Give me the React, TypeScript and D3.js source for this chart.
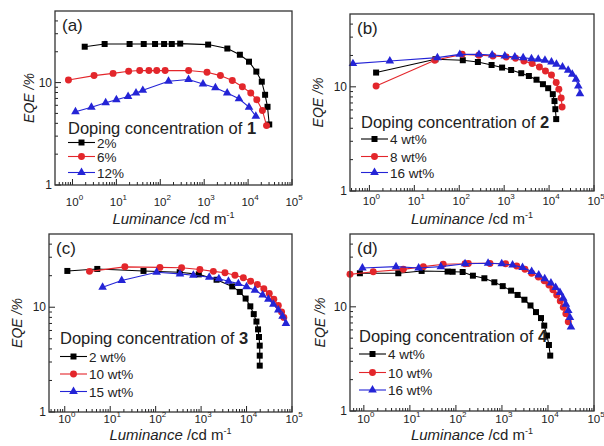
import React from 'react';
import * as d3 from 'd3';

// ---- panel (a): doping concentration of 1 ----
const aLum2 = [1.9, 5.4, 20, 42, 76, 122, 183, 284, 1230, 3370, 6500, 10500, 15400, 20500, 24400, 27700, 30300];
const aEqe2 = [22.4, 23.8, 23.8, 23.8, 23.8, 23.8, 23.8, 24.0, 23.5, 21.5, 18.7, 16.0, 12.8, 10.2, 7.6, 5.8, 3.9];
const aLum6 = [0.81, 3.1, 8.4, 19, 34, 55, 83, 129, 442, 1160, 2340, 4370, 7400, 11500, 15800, 21200, 26300];
const aEqe6 = [10.6, 11.7, 12.3, 12.9, 13.1, 13.1, 13.1, 13.1, 13.1, 12.6, 11.7, 10.5, 9.1, 7.9, 6.8, 5.35, 3.8];
const aLum12 = [1.17, 2.7, 5.7, 10, 18.5, 28, 40, 154, 440, 940, 1800, 3340, 6200, 10500, 15000];
const aEqe12 = [5.2, 5.75, 6.35, 6.8, 7.3, 7.9, 8.4, 10.3, 10.7, 9.7, 8.9, 7.9, 6.95, 5.75, 4.7];

// ---- panel (b): doping concentration of 2 ----
const bLum4 = [1.41, 29.5, 120, 260, 525, 900, 1430, 2400, 3550, 5250, 7300, 9550, 12100, 13200, 13800, 14400];
const bEqe4 = [13.7, 18.4, 18.0, 17.3, 16.2, 15.3, 14.5, 13.5, 12.7, 11.7, 10.6, 9.7, 8.5, 7.3, 6.1, 4.9];
const bLum8 = [1.41, 28.6, 116, 273, 560, 1110, 1790, 2750, 4200, 6100, 8300, 11300, 14400, 16500, 18600, 19500];
const bEqe8 = [10.2, 18.0, 20.5, 20.1, 19.8, 19.3, 18.8, 17.7, 16.7, 15.5, 14.2, 13.0, 11.0, 9.5, 7.8, 6.4];
const bLum16 = [0.43, 2.85, 32.7, 103, 275, 540, 1035, 1730, 2650, 4060, 5740, 8100, 11300, 14600, 19900, 26600, 32800, 39800, 44700, 48700];
const bEqe16 = [16.7, 17.7, 19.05, 20.5, 20.5, 20.2, 19.8, 19.3, 19.05, 18.6, 18.4, 18.0, 17.3, 16.5, 15.5, 14.4, 13.2, 11.8, 10.2, 8.6];

// ---- panel (c): doping concentration of 3 ----
const cLum2 = [1.14, 5.2, 54, 338, 890, 2190, 4830, 7100, 9550, 12100, 14400, 16500, 17900, 18800, 19500, 19500, 19500];
const cEqe2 = [22.2, 23.2, 22.2, 21.6, 20.6, 18.3, 15.8, 14.0, 12.1, 10.2, 8.6, 7.3, 6.15, 5.2, 4.3, 3.45, 2.77];
const cLum10 = [3.5, 21, 124, 372, 940, 1860, 3350, 5560, 8500, 12300, 17300, 24000, 31600, 39800, 50000, 59000, 66000];
const cEqe10 = [22.0, 24.3, 24.0, 23.8, 22.9, 22.0, 21.3, 20.2, 19.1, 17.7, 16.5, 15.0, 13.5, 11.9, 10.4, 9.0, 8.0];
const cLum15 = [6.8, 17.9, 105, 343, 675, 1510, 2460, 4000, 6600, 10000, 15300, 22600, 30200, 38900, 50000, 62000, 73500];
const cEqe15 = [15.5, 18.0, 21.6, 20.8, 20.2, 19.3, 18.7, 17.7, 16.8, 15.7, 14.5, 13.1, 11.9, 10.7, 9.4, 8.2, 7.0];

// ---- panel (d): doping concentration of 4 ----
const dLum4 = [0.82, 5.6, 18, 66, 85, 140, 234, 415, 684, 1040, 1580, 2190, 3080, 4170, 5500, 7050, 8300, 9500, 10500, 11200];
const dEqe4 = [21.0, 21.0, 22.1, 21.8, 21.7, 21.6, 19.9, 18.8, 17.2, 15.8, 14.3, 13.0, 11.7, 10.3, 8.9, 7.8, 6.6, 5.3, 4.3, 3.4];
const dLum10 = [0.5, 1.6, 7.2, 19.6, 53, 158, 186, 550, 1200, 2090, 3160, 4400, 6200, 8300, 10500, 12800, 15500, 18500, 21500, 24500, 27600];
const dEqe10 = [20.5, 21.7, 22.9, 24.3, 25.6, 25.9, 26.1, 26.1, 25.9, 24.6, 22.9, 21.0, 19.3, 17.8, 16.2, 14.6, 13.0, 11.4, 9.9, 8.6, 7.2];
const dLum16 = [0.93, 5, 15.5, 47, 158, 500, 990, 1700, 2800, 4420, 6300, 8500, 11600, 14700, 18200, 21400, 24500, 27600, 30000, 31600];
const dEqe16 = [23.6, 24.3, 23.6, 24.3, 25.9, 26.2, 25.9, 25.2, 23.9, 21.8, 20.2, 18.6, 16.9, 15.3, 13.7, 12.1, 10.6, 9.2, 7.9, 6.4];

const BLACK = '#000000';
const RED = '#e3262b';
const BLUE = '#2424d6';
const FONT = 'Liberation Sans, Arial, sans-serif';

const sq = d3.symbol().type(d3.symbolSquare).size(36)();
const ci = d3.symbol().type(d3.symbolCircle).size(38)();
const tri = d3.symbol().type(d3.symbolTriangle).size(32)();

const mk = (lum, eqe, color, shape, label) => ({ lum, eqe, color, shape, label });

const panels = [
  {
    tag: '(a)', num: '1', box: [55, 11, 292, 185], xMin: 0.4,
    tickY: 206, titleY: 224, yLabelX: 34,
    leg: { x: 68, titleY: 134, rows: [147.5, 161.5, 177.5] },
    series: [
      mk(aLum2, aEqe2, BLACK, sq, '2%'),
      mk(aLum6, aEqe6, RED, ci, '6%'),
      mk(aLum12, aEqe12, BLUE, tri, '12%'),
    ],
  },
  {
    tag: '(b)', num: '2', box: [350, 14, 594, 191], xMin: 0.37,
    tickY: 205, titleY: 224, yLabelX: 323,
    leg: { x: 361, titleY: 127.5, rows: [144, 161.5, 177.5] },
    series: [
      mk(bLum4, bEqe4, BLACK, sq, '4 wt%'),
      mk(bLum8, bEqe8, RED, ci, '8 wt%'),
      mk(bLum16, bEqe16, BLUE, tri, '16 wt%'),
    ],
  },
  {
    tag: '(c)', num: '3', box: [49, 234, 292, 412], xMin: 0.45,
    tickY: 423, titleY: 440, yLabelX: 22,
    leg: { x: 60, titleY: 343.5, rows: [361.5, 379, 396.5] },
    series: [
      mk(cLum2, cEqe2, BLACK, sq, '2 wt%'),
      mk(cLum10, cEqe10, RED, ci, '10 wt%'),
      mk(cLum15, cEqe15, BLUE, tri, '15 wt%'),
    ],
  },
  {
    tag: '(d)', num: '4', box: [350, 234, 594, 411], xMin: 0.5,
    tickY: 423, titleY: 440, yLabelX: 325,
    leg: { x: 359, titleY: 341.5, rows: [359, 377.5, 395] },
    series: [
      mk(dLum4, dEqe4, BLACK, sq, '4 wt%'),
      mk(dLum10, dEqe10, RED, ci, '10 wt%'),
      mk(dLum16, dEqe16, BLUE, tri, '16 wt%'),
    ],
  },
];

function Panel({ p }) {
  const [x0, y0, x1, y1] = p.box;
  const x = d3.scaleLog().domain([p.xMin, 1e5]).range([x0, x1]);
  const y = d3.scaleLog().domain([1, 50]).range([y1, y0]);
  const line = d3.line().x((d) => x(d[0])).y((d) => y(d[1]));

  const xMinor = [];
  for (let k = -1; k <= 4; k++) {
    for (let m = 2; m <= 9; m++) {
      const v = m * Math.pow(10, k);
      if (v > p.xMin && v < 1e5) xMinor.push(v);
    }
  }
  const xMajor = [1, 10, 100, 1000, 10000, 100000];
  const yMinor = [2, 3, 4, 5, 6, 7, 8, 9, 20, 30, 40];
  const yMajor = [1, 10];
  const lx0 = p.leg.x;
  const lx1 = p.leg.x + 27;

  return (
    <g fontFamily={FONT}>
      {/* ticks, inward */}
      {xMinor.map((v) => (
        <line key={'xm' + v} x1={x(v)} x2={x(v)} y1={y1} y2={y1 - 3} stroke="#222" strokeWidth={1} />
      ))}
      {xMajor.map((v) => (
        <line key={'xM' + v} x1={x(v)} x2={x(v)} y1={y1} y2={y1 - 6} stroke="#222" strokeWidth={1} />
      ))}
      {yMinor.map((v) => (
        <line key={'ym' + v} x1={x0} x2={x0 + 3} y1={y(v)} y2={y(v)} stroke="#222" strokeWidth={1} />
      ))}
      {yMajor.map((v) => (
        <line key={'yM' + v} x1={x0} x2={x0 + 6} y1={y(v)} y2={y(v)} stroke="#222" strokeWidth={1} />
      ))}

      {/* data */}
      {p.series.map((s, i) => {
        const pts = s.lum.map((l, j) => [l, s.eqe[j]]);
        return (
          <g key={i}>
            <path d={line(pts)} fill="none" stroke={s.color} strokeWidth={1.1} />
            {pts.map((d, j) => (
              <path key={j} d={s.shape} transform={`translate(${x(d[0])},${y(d[1])})`} fill={s.color} />
            ))}
          </g>
        );
      })}

      {/* frame */}
      <rect x={x0} y={y0} width={x1 - x0} height={y1 - y0} fill="none" stroke="#333" strokeWidth={1.3} />

      {/* tick labels */}
      {xMajor.map((v, i) => (
        <text key={'xl' + v} x={x(v) + 2} y={p.tickY} fontSize={11.5} textAnchor="middle" fill="#222">
          10<tspan fontSize={8} dy={-6}>{i}</tspan>
        </text>
      ))}
      {yMajor.map((v) => (
        <text key={'yl' + v} x={x0 - 3} y={y(v) + 4} fontSize={12} textAnchor="end" fill="#222">
          {v}
        </text>
      ))}

      {/* axis titles */}
      <text x={(x0 + x1) / 2} y={p.titleY} fontSize={15} textAnchor="middle" fill="#222">
        <tspan fontStyle="italic">Luminance</tspan> /cd m<tspan fontSize={9} dy={-6}>-1</tspan>
      </text>
      <text
        transform={`translate(${p.yLabelX},${(y0 + y1) / 2}) rotate(-90)`}
        fontSize={14}
        fontStyle="italic"
        textAnchor="middle"
        fill="#222"
      >
        EQE /%
      </text>

      {/* panel tag */}
      <text x={x0 + 7} y={y0 + 20} fontSize={17} fill="#222">
        {p.tag}
      </text>

      {/* legend */}
      <text x={lx0} y={p.leg.titleY} fontSize={16.5} fill="#222">
        Doping concentration of <tspan fontWeight="bold">{p.num}</tspan>
      </text>
      {p.series.map((s, i) => (
        <g key={'lg' + i}>
          <line x1={lx0} x2={lx1} y1={p.leg.rows[i] - 5} y2={p.leg.rows[i] - 5} stroke={s.color} strokeWidth={1.1} />
          <path d={s.shape} transform={`translate(${(lx0 + lx1) / 2},${p.leg.rows[i] - 5})`} fill={s.color} />
          <text x={lx1 + 2} y={p.leg.rows[i]} fontSize={13.5} fill="#222">
            {s.label}
          </text>
        </g>
      ))}
    </g>
  );
}

export default function App() {
  return (
    <svg
      width={604}
      height={446}
      viewBox="0 0 604 446"
      style={{ position: 'absolute', left: 0, top: 0, background: '#fff' }}
    >
      <rect width={604} height={446} fill="#fff" />
      {panels.map((p) => (
        <Panel key={p.tag} p={p} />
      ))}
    </svg>
  );
}
